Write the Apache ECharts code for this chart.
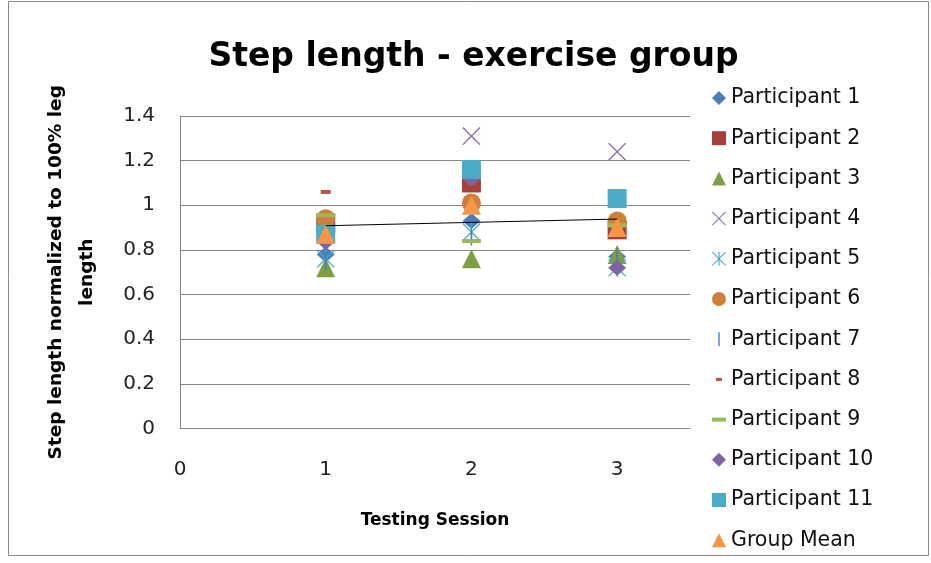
<!DOCTYPE html>
<html>
<head>
<meta charset="utf-8">
<script src="https://cdn.jsdelivr.net/npm/echarts@6/dist/echarts.min.js"></script>
<style>
  html, body { margin: 0; padding: 0; background: #fff; }
  #chart { width: 931px; height: 563px; }
</style>
</head>
<body>
<div id="chart"></div>
<script>
// Testing sessions (x values) and step length normalized to leg length
const sessions = [1, 2, 3];
const p1  = [0.78, 0.93, 0.77];
const p2  = [0.92, 1.10, 0.89];
const p3  = [0.72, 0.76, 0.78];
const p4  = [0.88, 1.31, 1.24];
const p5  = [0.76, 0.88, 0.72];
const p6  = [0.94, 1.01, 0.93];
const p7  = [0.75, 0.86, 0.77];
const p8  = [1.06, 1.10, 0.90];
const p9  = [0.955, 0.84, 0.91];
const p10 = [0.835, 1.12, 0.72];
const p11 = [0.87, 1.16, 1.03];
const groupMean = [0.87, 1.00, 0.90];

const seriesNames = ['Participant 1', 'Participant 2', 'Participant 3', 'Participant 4',
  'Participant 5', 'Participant 6', 'Participant 7', 'Participant 8', 'Participant 9',
  'Participant 10', 'Participant 11', 'Group Mean'];
const xTicks = [0, 1, 2, 3];
const yTicks = [0, 0.2, 0.4, 0.6, 0.8, 1, 1.2, 1.4];

// marker shapes
const X_PATH = 'path://M0,5L5,0L50,45L95,0L100,5L55,50L100,95L95,100L50,55L5,100L0,95L45,50Z';
const STAR_PATH = X_PATH.replace('Z', 'ZM46,0L54,0L54,100L46,100Z');
const VBAR_ICON = 'path://M0,0M14,14M6.3,0L7.7,0L7.7,14L6.3,14Z';
const DASH_ICON = 'path://M0,0M14,14M4,5.5L10,5.5L10,8.5L4,8.5Z';
const BAR_ICON  = 'path://M0,0M14,14M0,5L14,5L14,9L0,9Z';

const styles = [
  { symbol: 'diamond', size: [18, 16], color: '#4A7EBB' },
  { symbol: 'rect', size: 19, color: '#A5403D' },
  { symbol: 'triangle', size: 19, color: '#7F9F45' },
  { symbol: X_PATH, size: 18, color: '#7E66A4' },
  { symbol: STAR_PATH, size: 18, color: '#48A8C2' },
  { symbol: 'circle', size: 19, color: '#CF7F37' },
  { symbol: 'rect', size: [1.5, 18], color: '#4A7EBB', icon: VBAR_ICON },
  { symbol: 'rect', size: [10, 4], color: '#C0504D', icon: DASH_ICON },
  { symbol: 'rect', size: [19, 4], color: '#9BBB59', icon: BAR_ICON },
  { symbol: 'diamond', size: [18, 16], color: '#8064A2' },
  { symbol: 'rect', size: 19, color: '#4BACC6' },
  { symbol: 'triangle', size: 19, color: '#F79646' }
];
const values = [p1, p2, p3, p4, p5, p6, p7, p8, p9, p10, p11, groupMean];

// least-squares trend through the group mean
function linearFit(xs, ys) {
  const n = xs.length;
  const mx = xs.reduce((a, b) => a + b, 0) / n;
  const my = ys.reduce((a, b) => a + b, 0) / n;
  let sxy = 0, sxx = 0;
  for (let i = 0; i < n; i++) { sxy += (xs[i] - mx) * (ys[i] - my); sxx += (xs[i] - mx) ** 2; }
  const slope = sxy / sxx;
  return x => my + slope * (x - mx);
}
const trend = linearFit(sessions, groupMean);
const trendData = [sessions[0], sessions[sessions.length - 1]].map(x => [x, trend(x)]);

const FONT = 'DejaVu Sans';

const series = values.map((vals, i) => ({
  name: seriesNames[i],
  type: 'scatter',
  symbol: styles[i].symbol,
  symbolSize: styles[i].size,
  itemStyle: { color: styles[i].color, opacity: 1 },
  data: sessions.map((s, j) => [s, vals[j]]),
  z: 2 + i * 0.01,
  silent: true
}));
series.push({
  name: 'Trend',
  type: 'line',
  data: trendData,
  showSymbol: false,
  symbol: 'none',
  lineStyle: { color: '#000', width: 1 },
  z: 5,
  silent: true
});

const chart = echarts.init(document.getElementById('chart'), null, { renderer: 'canvas' });
chart.setOption({
  animation: false,
  backgroundColor: '#fff',
  graphic: [
    {
      type: 'rect',
      shape: { x: 8.5, y: 1.5, width: 920, height: 554 },
      style: { fill: 'none', stroke: '#8a8a8a', lineWidth: 1 },
      silent: true
    },
    {
      type: 'text',
      x: 473.5, y: 57,
      style: {
        text: 'Step length - exercise group',
        font: 'bold 33px "' + FONT + '"',
        fill: '#000',
        textAlign: 'center',
        textVerticalAlign: 'middle'
      },
      silent: true
    }
  ],
  grid: { left: 180, top: 116, width: 510, height: 312.5, containLabel: false },
  xAxis: {
    type: 'value',
    min: xTicks[0],
    max: 3.5,
    interval: 1,
    name: 'Testing Session',
    nameLocation: 'middle',
    nameGap: 84,
    nameTextStyle: { fontFamily: FONT, fontWeight: 'bold', fontSize: 17, color: '#000' },
    axisLine: { show: true, lineStyle: { color: '#868686', width: 1 } },
    axisTick: { show: false },
    splitLine: { show: false },
    axisLabel: {
      margin: 31,
      fontFamily: FONT, fontSize: 20, color: '#222',
      formatter: v => (xTicks.indexOf(v) >= 0 ? String(v) : '')
    }
  },
  yAxis: {
    type: 'value',
    min: yTicks[0],
    max: yTicks[yTicks.length - 1],
    interval: 0.2,
    name: 'Step length normalized to 100% leg\nlength',
    nameLocation: 'middle',
    nameRotate: 90,
    nameGap: 77,
    nameTextStyle: { fontFamily: FONT, fontWeight: 'bold', fontSize: 18.5, color: '#000', lineHeight: 31 },
    axisLine: { show: true, lineStyle: { color: '#868686', width: 1 } },
    axisTick: { show: false },
    splitLine: { show: true, lineStyle: { color: '#868686', width: 1 } },
    axisLabel: {
      margin: 25,
      fontFamily: FONT, fontSize: 20, color: '#222',
      formatter: v => String(Math.round(v * 10) / 10)
    }
  },
  legend: {
    orient: 'vertical',
    left: 707,
    top: 82,
    itemWidth: 14,
    itemHeight: 14,
    itemGap: 18.2,
    itemTextGap: 7,
    itemStyle: { borderWidth: 0 },
    textStyle: { fontFamily: FONT, fontSize: 20.5, color: '#111', lineHeight: 22 },
    selectedMode: false,
    data: seriesNames.map((n, i) => (styles[i].icon ? { name: n, icon: styles[i].icon } : { name: n }))
  },
  series: series
});
</script>
</body>
</html>
